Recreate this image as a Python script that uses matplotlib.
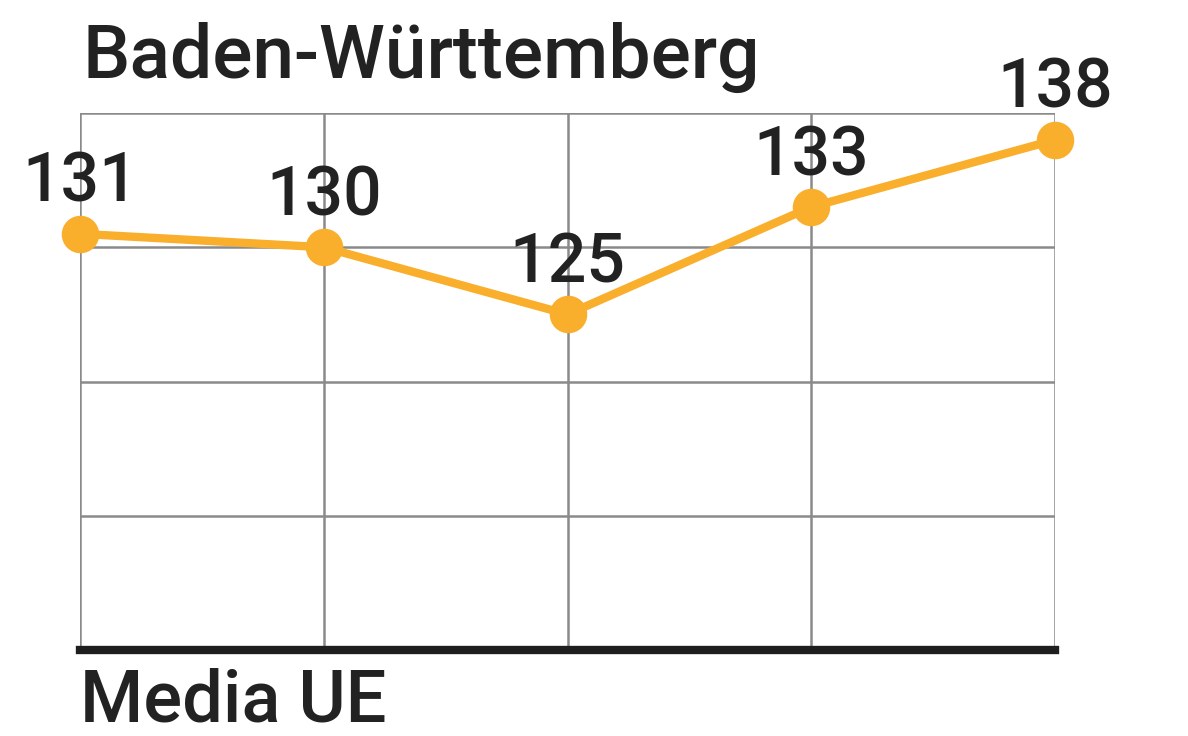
import matplotlib.pyplot as plt

# Data
years = [0, 1, 2, 3, 4]
values = [131, 130, 125, 133, 138]
title = "Baden-Württemberg"
footer = "Media UE"

plt.rcParams['font.family'] = ['Roboto', 'DejaVu Sans']
plt.rcParams['font.weight'] = 'medium'

fig = plt.figure(figsize=(11.88, 7.36), dpi=100)
ax = fig.add_axes([80 / 1188, 1 - 650 / 736, 975 / 1188, 537 / 736])

orange = '#F9AE2C'
ax.plot(years, values, color=orange, linewidth=6, marker='o', markersize=26,
        solid_capstyle='round', zorder=3, clip_on=False)

for x, v in zip(years, values):
    ax.annotate(str(v), (x, v), xytext=(0, 23), textcoords='offset points',
                ha='center', va='baseline', fontsize=49, color='#222222')

ax.set_xlim(0, 4)
ax.set_ylim(100, 140)
ax.set_xticks(years)
ax.set_yticks([100, 110, 120, 130, 140])
ax.grid(True, color='#8a8a8a', linewidth=1.8)
ax.tick_params(length=0, labelbottom=False, labelleft=False)
for s in ['top', 'right', 'left']:
    ax.spines[s].set_visible(False)
ax.spines['bottom'].set_color('#1e1e1e')
ax.spines['bottom'].set_linewidth(6)
ax.set_axisbelow(True)

fig.text(82 / 1188, 1 - 78 / 736, title, fontsize=54, color='#222222', ha='left', va='baseline')
fig.text(80 / 1188, 1 - 722 / 736, footer, fontsize=52, color='#222222', ha='left', va='baseline')

fig.savefig('out.png', dpi=100)
